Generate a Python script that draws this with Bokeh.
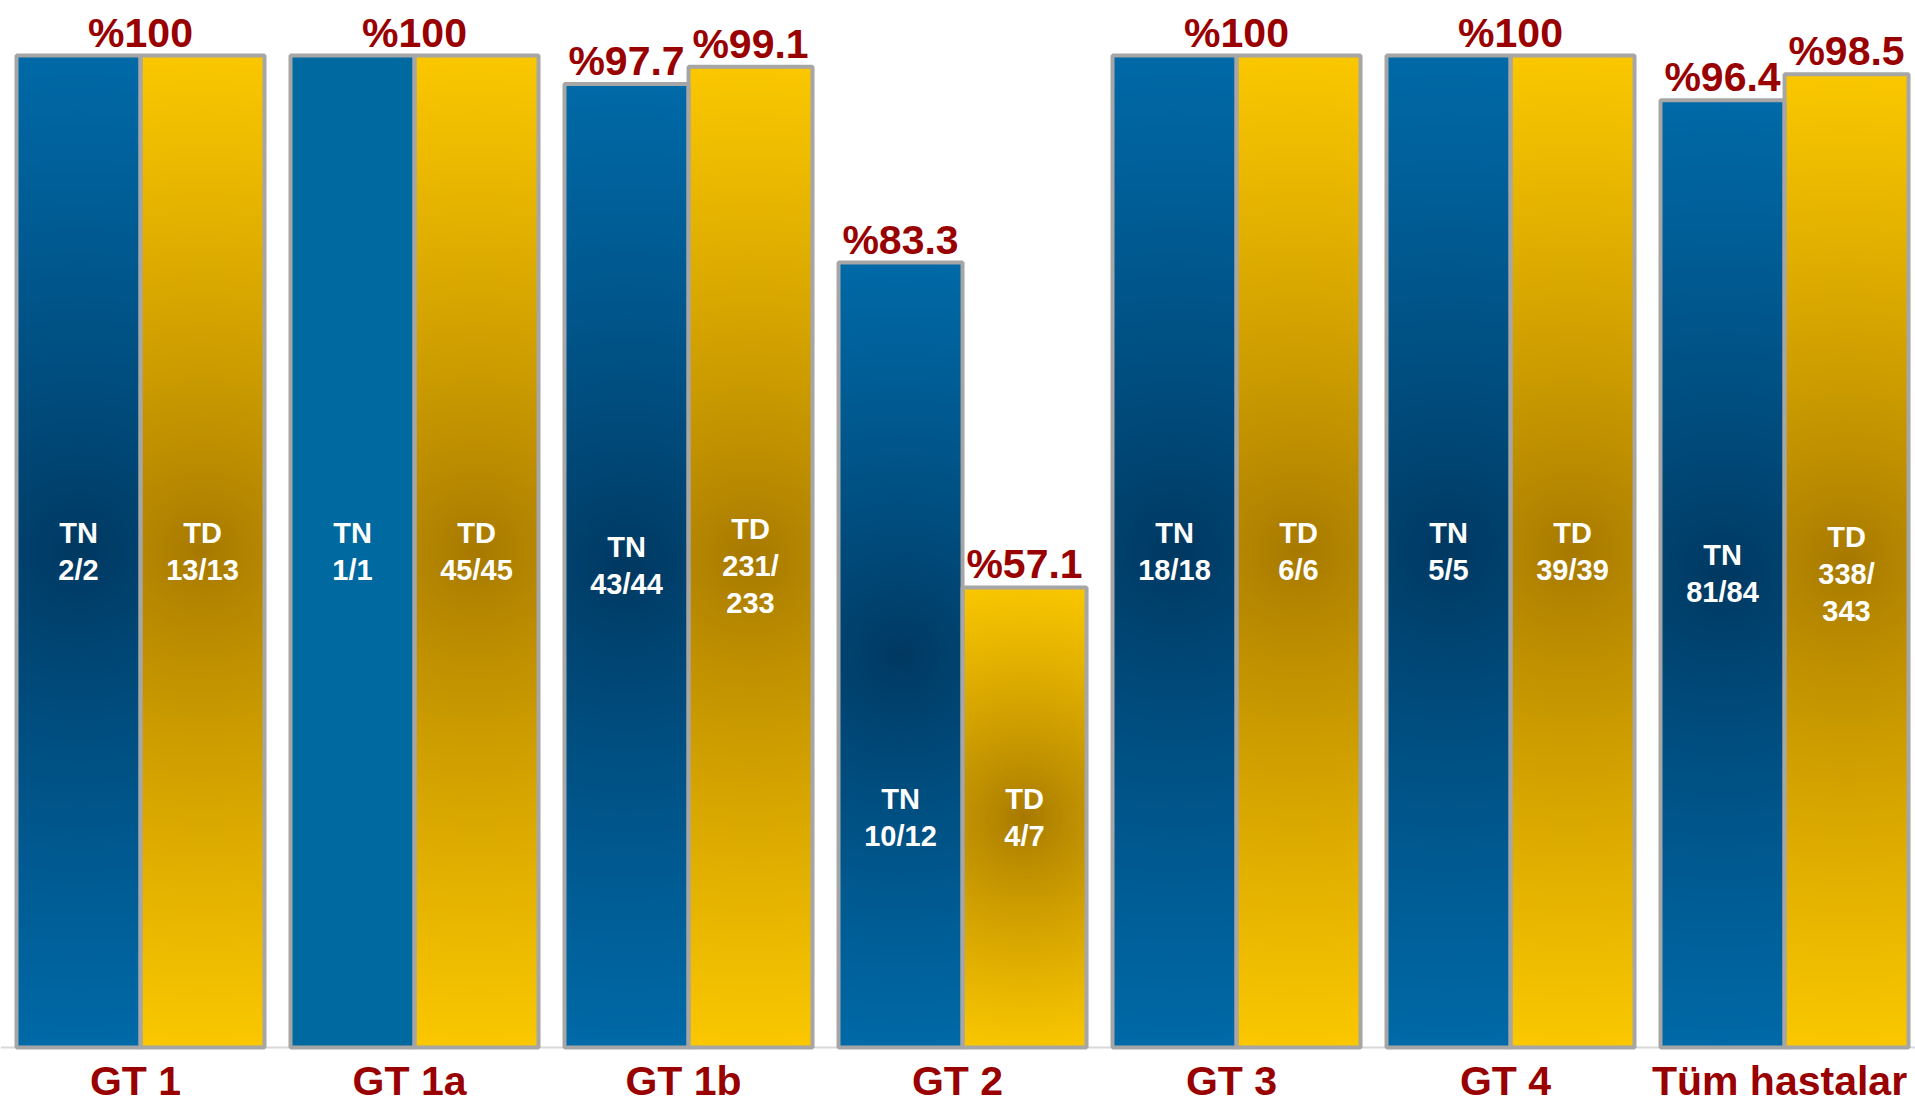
import numpy as np
from bokeh.plotting import figure
from bokeh.models import Range1d, Span
from bokeh.core.properties import value
from bokeh.embed import file_html
from bokeh.resources import INLINE

# --- data -------------------------------------------------------------
groups = ["GT 1", "GT 1a", "GT 1b", "GT 2", "GT 3", "GT 4", "Tüm hastalar"]
tn_pct = [100, 100, 97.7, 83.3, 100, 100, 96.4]
td_pct = [100, 100, 99.1, 57.1, 100, 100, 98.5]
tn_n = [2, 1, 43, 10, 18, 5, 81]
tn_total = [2, 1, 44, 12, 18, 5, 84]
td_n = [13, 45, 231, 4, 6, 39, 338]
td_total = [13, 45, 233, 7, 6, 39, 343]

# --- layout / style ---------------------------------------------------
W, H = 1915, 1106
X_START, X_END = -0.511, 6.478
BASE = 20
Y_START, Y_END = 15.24, 104.44
BAR_W = 0.4526
DARK_RED = "#990000"
BORDER = "#a6a6a6"
BLUE_EDGE, BLUE_CORE = (0, 106, 168), (0, 56, 96)
GOLD_EDGE, GOLD_CORE = (251, 200, 0), (166, 120, 0)
BLUE_FLAT = (0, 105, 160)
FLAT_BARS = {("GT 1a", "TN")}
FONT = value("Liberation Sans")

px_x = W / (X_END - X_START)
px_y = H / (Y_END - Y_START)


def radial_fill(edge, core, w_units, h_units, nx=40, ny=300):
    """RGBA texture darkening toward the centre of a bar."""
    wpx, hpx = w_units * px_x, h_units * px_y
    xs = ((np.arange(nx) + 0.5) / nx - 0.5) * wpx
    ys = ((np.arange(ny) + 0.5) / ny - 0.5) * hpx
    X, Y = np.meshgrid(xs, ys)
    d = np.sqrt(X ** 2 + Y ** 2) / np.hypot(wpx / 2, hpx / 2)
    t = (np.clip(d, 0, 1) ** 0.8)[..., None]
    rgb = np.array(core)[None, None, :] * (1 - t) + np.array(edge)[None, None, :] * t
    img = np.empty((ny, nx), dtype=np.uint32)
    view = img.view(dtype=np.uint8).reshape((ny, nx, 4))
    view[..., :3] = rgb.astype(np.uint8)
    view[..., 3] = 255
    return img


def flat_fill(color):
    img = np.empty((2, 2), dtype=np.uint32)
    view = img.view(dtype=np.uint8).reshape((2, 2, 4))
    view[..., :3] = color
    view[..., 3] = 255
    return img


p = figure(width=W, height=H, x_range=Range1d(X_START, X_END),
           y_range=Range1d(Y_START, Y_END), output_backend="svg",
           toolbar_location=None, min_border=0)
p.axis.visible = False
p.grid.visible = False
p.outline_line_color = None
p.background_fill_color = "white"

p.add_layout(Span(location=BASE, dimension="width", line_color="#d9d9d9",
                  line_width=2, level="underlay"))

off = BAR_W / 2
bar_x, bar_top = [], []
for i, g in enumerate(groups):
    for s, vals, edge, core, sign in (("TN", tn_pct, BLUE_EDGE, BLUE_CORE, -1),
                                      ("TD", td_pct, GOLD_EDGE, GOLD_CORE, 1)):
        v = vals[i]
        cx = i + sign * off
        if (g, s) in FLAT_BARS:
            img = flat_fill(BLUE_FLAT)
        else:
            img = radial_fill(edge, core, BAR_W, v - BASE)
        p.image_rgba(image=[img], x=[cx - off], y=[BASE], dw=[BAR_W], dh=[v - BASE])
        bar_x.append(cx)
        bar_top.append(v)

p.vbar(x=bar_x, top=bar_top, bottom=BASE, width=BAR_W, fill_alpha=0,
       line_color=BORDER, line_width=4)

# percentage labels: one per group when both bars agree
px_, py_, pt_ = [], [], []
for i in range(len(groups)):
    a, b = tn_pct[i], td_pct[i]
    if a == b:
        px_.append(i); py_.append(a); pt_.append(f"%{a:g}")
    else:
        px_ += [i - off, i + off]; py_ += [a, b]; pt_ += [f"%{a:g}", f"%{b:g}"]
p.text(x=px_, y=py_, text=pt_, text_align="center", text_baseline="bottom",
       y_offset=0, text_color=DARK_RED, text_font=FONT, text_font_style="bold",
       text_font_size="41px")


def count_label(name, n, t):
    s = f"{n}/{t}"
    if len(s) > 6:
        s = f"{n}/\n{t}"
    return f"{name}\n{s}"


ix, iy, it = [], [], []
for i in range(len(groups)):
    mid = (min(tn_pct[i], td_pct[i]) + BASE) / 2
    ix += [i - off, i + off]
    iy += [mid, mid]
    it += [count_label("TN", tn_n[i], tn_total[i]), count_label("TD", td_n[i], td_total[i])]
p.text(x=ix, y=iy, text=it, text_align="center", text_baseline="middle",
       text_color="white", text_font=FONT, text_font_style="bold",
       text_font_size="29px", text_line_height=1.15)

# group names under the baseline
p.text(x=list(range(len(groups))), y=[BASE] * len(groups), text=groups,
       text_align="center", text_baseline="top", y_offset=11, x_offset=-5,
       text_color=DARK_RED, text_font=FONT, text_font_style="bold",
       text_font_size="41px")

open("out.html", "w").write(file_html(p, INLINE))
